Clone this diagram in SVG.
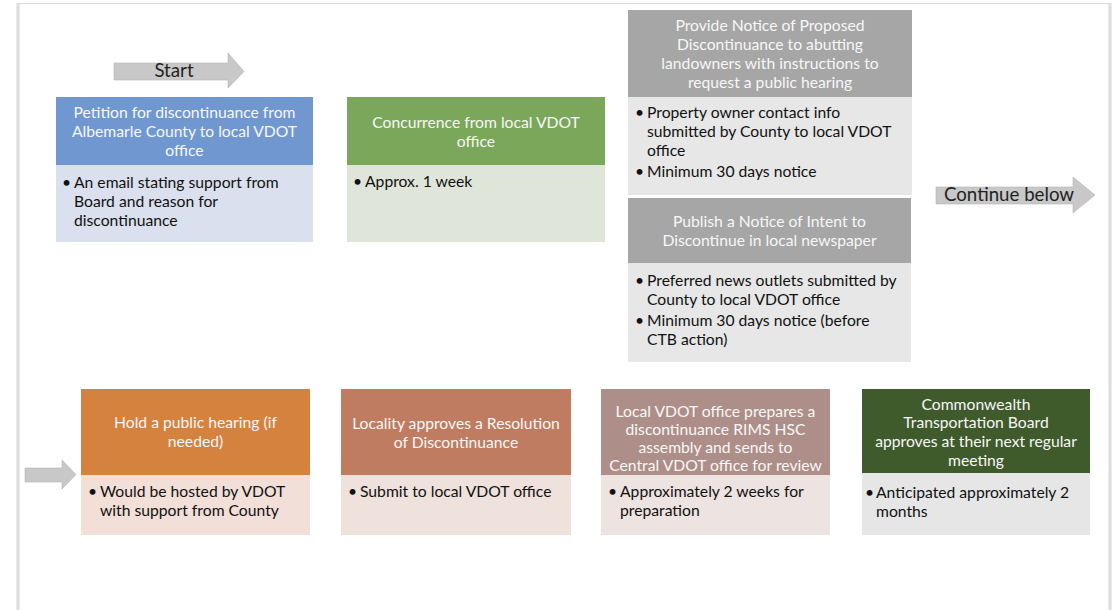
<svg xmlns="http://www.w3.org/2000/svg" width="1117" height="610" viewBox="0 0 1117 610">
<style>
text{font-family:Lato,"Open Sans","Liberation Sans",sans-serif;}
.h{fill:#f7f7f7;font-size:15.7px;text-anchor:middle;}
.b{fill:#111;font-size:15.7px;}
.a{fill:#222;font-size:18.7px;}
.arrow{fill:#c8c8c8;stroke:#b5b5b5;stroke-width:0.6;}
.frame{stroke:#dcdcdc;fill:none;}
</style>
<rect width="1117" height="610" fill="#ffffff"/>
<g id="frame">
<line class="frame" x1="17" y1="3.5" x2="1110" y2="3.5" stroke-width="1"/>
<line class="frame" x1="18" y1="3" x2="18" y2="610" stroke-width="3"/>
<line class="frame" x1="1110" y1="3" x2="1110" y2="610" stroke-width="3"/>
</g>
<g id="connectors">
<g id="start-arrow">
<polygon class="arrow" points="114,63 228,63 228,53 244,71.5 228,88 228,80 114,80"/>
<text class="a" x="174" y="77" text-anchor="middle">Start</text>
</g>
<g id="continue-arrow">
<polygon class="arrow" points="936,187 1073,187 1073,177 1095,195 1073,213 1073,204 936,204"/>
<text class="a" x="1009" y="201" text-anchor="middle">Continue below</text>
</g>
<g id="continue-in-arrow">
<polygon class="arrow" points="25,468 62,468 62,460 76,474.5 62,489 62,482 25,482"/>
</g>
</g>
<g id="node-petition">
<rect x="56" y="97" width="257" height="68" fill="#7097cf"/>
<rect x="56" y="165" width="257" height="77" fill="#dae0ed"/>
<text class="h" x="184.5" y="118">Petition for discontinuance from</text>
<text class="h" x="184.5" y="137">Albemarle County to local VDOT</text>
<text class="h" x="184.5" y="156">office</text>
<text class="b" x="62" y="188">•</text>
<text class="b" x="74" y="188">An email stating support from</text>
<text class="b" x="74" y="207">Board and reason for</text>
<text class="b" x="74" y="226">discontinuance</text>
</g>
<g id="node-concurrence">
<rect x="347" y="97" width="258" height="68" fill="#7ba75b"/>
<rect x="347" y="165" width="258" height="77" fill="#dfe5d8"/>
<text class="h" x="476" y="128">Concurrence from local VDOT</text>
<text class="h" x="476" y="147">office</text>
<text class="b" x="353" y="187">•</text>
<text class="b" x="365" y="187">Approx. 1 week</text>
</g>
<g id="node-notice">
<rect x="628" y="10" width="284" height="87" fill="#a6a6a6"/>
<rect x="628" y="97" width="284" height="98" fill="#e7e7e7"/>
<text class="h" x="770" y="31">Provide Notice of Proposed</text>
<text class="h" x="770" y="50">Discontinuance to abutting</text>
<text class="h" x="770" y="69">landowners with instructions to</text>
<text class="h" x="770" y="88">request a public hearing</text>
<text class="b" x="635" y="118">•</text>
<text class="b" x="647" y="118">Property owner contact info</text>
<text class="b" x="647" y="137">submitted by County to local VDOT</text>
<text class="b" x="647" y="156">office</text>
<text class="b" x="635" y="177">•</text>
<text class="b" x="647" y="177">Minimum 30 days notice</text>
</g>
<g id="node-publish">
<rect x="628" y="198" width="283" height="65" fill="#a6a6a6"/>
<rect x="628" y="263" width="283" height="99" fill="#e7e7e7"/>
<text class="h" x="769.5" y="227">Publish a Notice of Intent to</text>
<text class="h" x="769.5" y="246">Discontinue in local newspaper</text>
<text class="b" x="635" y="286">•</text>
<text class="b" x="647" y="286">Preferred news outlets submitted by</text>
<text class="b" x="647" y="305">County to local VDOT office</text>
<text class="b" x="635" y="326">•</text>
<text class="b" x="647" y="326">Minimum 30 days notice (before</text>
<text class="b" x="647" y="345">CTB action)</text>
</g>
<g id="node-hearing">
<rect x="81" y="389" width="229" height="86" fill="#d6823f"/>
<rect x="81" y="475" width="229" height="60" fill="#f2dfd7"/>
<text class="h" x="195.5" y="428">Hold a public hearing (if</text>
<text class="h" x="195.5" y="447">needed)</text>
<text class="b" x="88" y="497">•</text>
<text class="b" x="100" y="497">Would be hosted by VDOT</text>
<text class="b" x="100" y="516">with support from County</text>
</g>
<g id="node-resolution">
<rect x="341" y="389" width="230" height="86" fill="#c07c60"/>
<rect x="341" y="475" width="230" height="60" fill="#efe1dc"/>
<text class="h" x="456" y="429">Locality approves a Resolution</text>
<text class="h" x="456" y="448">of Discontinuance</text>
<text class="b" x="348" y="497">•</text>
<text class="b" x="360" y="497">Submit to local VDOT office</text>
</g>
<g id="node-rims">
<rect x="601" y="389" width="229" height="86" fill="#ae8e88"/>
<rect x="601" y="475" width="229" height="60" fill="#ede3e1"/>
<text class="h" x="715.5" y="417">Local VDOT office prepares a</text>
<text class="h" x="715.5" y="435">discontinuance RIMS HSC</text>
<text class="h" x="715.5" y="453">assembly and sends to</text>
<text class="h" x="715.5" y="471">Central VDOT office for review</text>
<text class="b" x="608" y="497">•</text>
<text class="b" x="620" y="497">Approximately 2 weeks for</text>
<text class="b" x="620" y="516">preparation</text>
</g>
<g id="node-ctb">
<rect x="862" y="389" width="228" height="84" fill="#3f5a2b"/>
<rect x="862" y="473" width="228" height="62" fill="#e6e6e6"/>
<text class="h" x="976" y="410">Commonwealth</text>
<text class="h" x="976" y="428">Transportation Board</text>
<text class="h" x="976" y="447">approves at their next regular</text>
<text class="h" x="976" y="466">meeting</text>
<text class="b" x="865" y="498">•</text>
<text class="b" x="876" y="498">Anticipated approximately 2</text>
<text class="b" x="876" y="517">months</text>
</g>
</svg>
